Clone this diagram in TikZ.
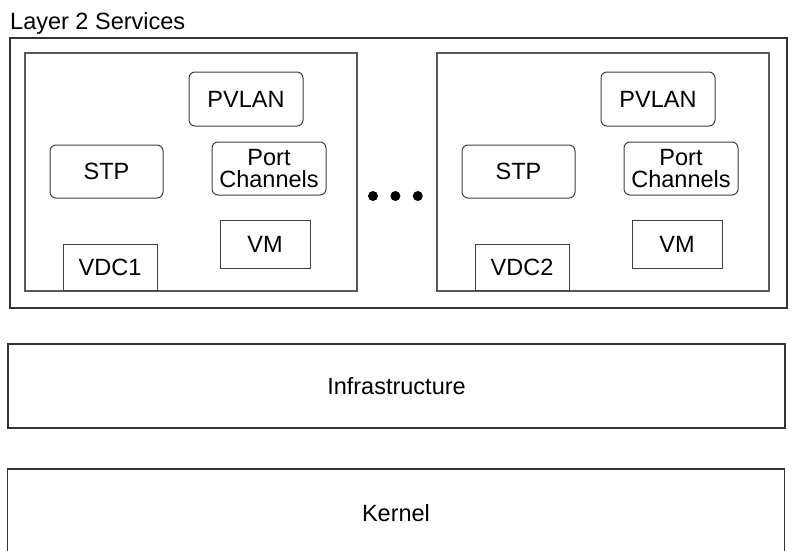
\documentclass[tikz,border=0pt]{standalone}
\usepackage{fontspec}
\setmainfont{Liberation Sans}
\usepackage{tikz}
\usetikzlibrary{shapes,positioning}

\tikzset{
  layer/.style={draw=black!80, line width=1.6pt, rectangle, minimum width=777pt},
  vdcbox/.style={draw=black!65, line width=1.2pt, rectangle, minimum width=332pt, minimum height=238pt},
  service/.style={draw=black!75, line width=1pt, rectangle, rounded corners=6pt, align=center,
                  minimum width=114pt, minimum height=54pt, inner sep=1pt},
  plainbox/.style={draw=black!75, line width=1pt, rectangle, fill=white},
  bulletdot/.style={circle, fill=black, inner sep=0pt, minimum size=10pt},
}

\begin{document}
\begin{tikzpicture}[x=1pt, y=-1pt, font=\fontsize{23.5}{22}\selectfont]
    % Sizes
    \clip (0,0) rectangle (792,551);
    \fill[white] (0,0) rectangle (792,551);

    % layer 2 services
    \node[layer, minimum height=270pt] (l2) at (398.5,173) {};
    \node[anchor=base west, inner sep=0pt] (l2label) at (10,30) {Layer 2 Services};

    % the two domains
    \foreach \i/\dx in {1/0, 2/412} {
        \node[vdcbox] (vdc\i) at (191+\dx,172) {};
        \node[service] (pvlan\i) at (246+\dx,99) {PVLAN};
        \node[service, minimum width=113pt, minimum height=53pt] (stp\i) at (106.5+\dx,171.5) {STP};
        \node[service, minimum height=53pt] (port\i) at (269+\dx,168.5) {Port\\Channels};
        \node[plainbox, minimum width=90pt, minimum height=48pt] (vm\i) at (265+\dx,244) {VM};
        \node[plainbox, minimum width=94pt, minimum height=46pt] (vdcname\i) at (110+\dx,267) {VDC\i};
    }

    % dots between them
    \node[bulletdot] (dot1) at (373,196) {};
    \node[bulletdot, right=12pt of dot1] (dot2) {};
    \node[bulletdot, right=12pt of dot2] (dot3) {};

    % lower layers
    \node[layer, minimum height=84pt] (infra) at (396.5,386) {Infrastructure};
    \node[layer, minimum height=88pt] (kernel) at (396,513) {Kernel};
\end{tikzpicture}
\end{document}
